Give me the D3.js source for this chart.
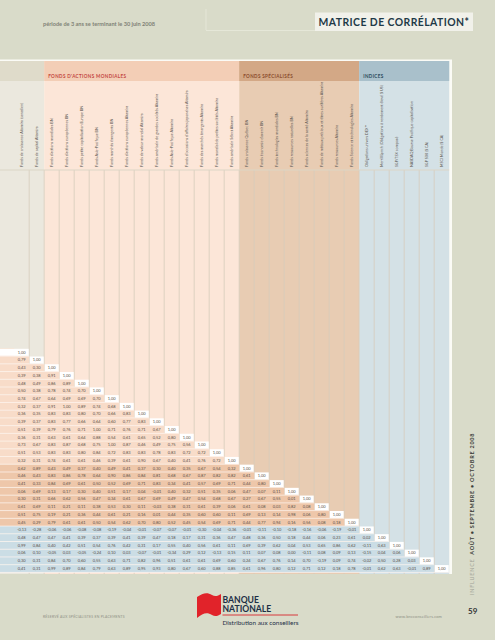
<!DOCTYPE html>
<html><head><meta charset="utf-8">
<script src="https://cdn.jsdelivr.net/npm/d3@7"></script>
<style>
html,body{margin:0;padding:0;background:#d9dbc9;}
svg{display:block;}
text{font-family:Lato,"Open Sans",sans-serif;}
</style></head>
<body>
<script>
// ---------- DATA ----------
const groupNames = ["", "FONDS D'ACTIONS MONDIALES", "FONDS SPÉCIALISÉS", "INDICES"];
const groupSizes = [2, 13, 8, 6];
const columns = [
  "Fonds de croissance Altamira (canadien)",
  "Fonds de capital Altamira",
  "Fonds d'actions mondiales BN",
  "Fonds d'actions européennes BN",
  "Fonds petite capitalisation Europe BN",
  "Fonds Asie-Pacifique BN",
  "Fonds marchés émergents BN",
  "Fonds d'actions européennes Altamira",
  "Fonds de valeur mondial Altamira",
  "Fonds américain de grandes sociétés Altamira",
  "Fonds Asie-Pacifique Altamira",
  "Fonds d'occasions d'affaires japonaises Altamira",
  "Fonds des marchés émergents Altamira",
  "Fonds mondial de petites sociétés Altamira",
  "Fonds américain Sélect Altamira",
  "Fonds croissance Québec BN",
  "Fonds économie d'avenir BN",
  "Fonds technologies mondiales BN",
  "Fonds ressources naturelles BN",
  "Fonds sciences de la santé Altamira",
  "Fonds de métaux précieux et titres aurifères Altamira",
  "Fonds ressources Altamira",
  "Fonds Science et technologies Altamira",
  "Obligations univers DEX™",
  "Merrill Lynch (Obligations à rendement élevé $ US)",
  "S&P/TSX composé",
  "NASDAQ Bourse Pacifique capitalisation",
  "S&P 500 ($ CA)",
  "MSCI Monde ($ CA)"
];
// lower triangle (row i has i values, diagonal = 1,00)
const corr = [
 [],
 [0.79],
 [0.43,0.30],
 [0.39,0.38,0.91],
 [0.48,0.49,0.86,0.89],
 [0.50,0.38,0.78,0.74,0.70],
 [0.74,0.67,0.64,0.69,0.69,0.70],
 [0.32,0.37,0.91,1.00,0.89,0.74,0.68],
 [0.36,0.35,0.83,0.83,0.80,0.70,0.66,0.83],
 [0.39,0.37,0.83,0.77,0.66,0.64,0.60,0.77,0.83],
 [0.51,0.39,0.79,0.76,0.71,1.00,0.71,0.76,0.71,0.67],
 [0.36,0.31,0.63,0.61,0.64,0.88,0.54,0.61,0.65,0.52,0.80],
 [0.73,0.67,0.83,0.87,0.68,0.75,1.00,0.87,0.46,0.49,0.75,0.56],
 [0.51,0.53,0.83,0.83,0.80,0.84,0.72,0.83,0.83,0.78,0.83,0.72,0.72],
 [0.32,0.31,0.74,0.61,0.61,0.46,0.39,0.61,0.90,0.67,0.40,0.41,0.76,0.72],
 [0.62,0.89,0.43,0.49,0.37,0.40,0.49,0.41,0.37,0.30,0.40,0.35,0.67,0.54,0.32],
 [0.46,0.43,0.83,0.86,0.78,0.64,0.90,0.86,0.84,0.81,0.68,0.67,0.87,0.82,0.82,0.61],
 [0.41,0.33,0.84,0.69,0.61,0.50,0.52,0.69,0.71,0.83,0.34,0.41,0.57,0.69,0.71,0.44,0.80],
 [0.06,0.69,0.13,0.17,0.30,0.40,0.51,0.17,0.04,-0.01,0.40,0.32,0.51,0.35,0.06,0.47,0.07,0.11],
 [0.30,0.31,0.66,0.62,0.56,0.47,0.34,0.61,0.67,0.69,0.49,0.47,0.54,0.68,0.67,0.27,0.67,0.55,0.01],
 [0.61,0.69,0.11,0.21,0.11,0.38,0.53,0.30,0.11,-0.03,0.38,0.31,0.61,0.39,0.06,0.61,0.08,0.03,0.82,0.08],
 [0.51,0.75,0.19,0.21,0.36,0.44,0.61,0.21,0.16,0.01,0.44,0.35,0.60,0.60,0.11,0.69,0.13,0.14,0.98,0.06,0.80],
 [0.45,0.29,0.79,0.61,0.61,0.50,0.54,0.62,0.70,0.80,0.52,0.45,0.54,0.69,0.71,0.44,0.77,0.94,0.16,0.56,0.08,0.18],
 [-0.13,-0.28,-0.06,-0.06,-0.08,-0.08,-0.19,-0.04,-0.01,-0.07,-0.07,-0.01,-0.30,-0.04,-0.36,-0.01,-0.11,-0.10,-0.18,-0.16,-0.06,-0.19,-0.01],
 [0.48,0.47,0.47,0.41,0.39,0.37,0.39,0.41,0.39,0.47,0.18,0.17,0.31,0.36,0.47,0.48,0.36,0.50,0.18,0.44,0.06,0.23,0.61,0.02],
 [0.99,0.84,0.40,0.42,0.51,0.54,0.76,0.42,0.31,0.17,0.55,0.40,0.56,0.61,0.11,0.69,0.39,0.62,0.04,0.53,0.65,0.86,0.62,-0.11,0.63],
 [0.06,0.10,-0.05,0.03,-0.05,-0.24,0.10,0.03,-0.07,-0.01,-0.34,0.29,0.12,-0.13,0.15,0.11,0.07,0.08,0.00,-0.11,0.08,0.09,0.13,-0.15,0.04,0.06],
 [0.30,0.31,0.84,0.70,0.60,0.55,0.63,0.71,0.82,0.96,0.51,0.61,0.61,0.69,0.60,0.24,0.67,0.76,0.14,0.70,-0.19,0.09,0.74,-0.02,0.50,0.28,0.03],
 [0.41,0.31,0.99,0.89,0.84,0.79,0.63,0.89,0.95,0.93,0.80,0.67,0.60,0.88,0.85,0.61,0.96,0.80,0.12,0.71,0.12,0.18,0.78,-0.01,0.62,0.63,-0.01,0.89]
];
const titleText = "MATRICE DE CORRÉLATION*";
const subtitleText = "période de 3 ans se terminant le 30 juin 2008";

// ---------- STYLE ----------
const W = 495, H = 640;
const bandFill   = ["#dfdbca", "#f3ceb6", "#d3a886", "#a9c0cb"];
const colFill    = ["#ebe8de", "#fce6d8", "#e8ccb3", "#d4e1e6"];
const rowFill    = ["#f8dcc9", "#f8dcc9", "#eec7aa", "#cbdde5"];
const groupText  = ["#000", "#c4473f", "#8a4b2c", "#27485a"];
const n = columns.length;
const groupOf = [];
groupSizes.forEach((s, g) => { for (let k = 0; k < s; k++) groupOf.push(g); });

const svg = d3.select("body").append("svg").attr("width", W).attr("height", H);

const x = d3.scaleBand().domain(d3.range(n)).range([14.2, 449.2]);
const y = d3.scaleBand().domain(d3.range(n)).range([348.4, 572.4]);
const topY = 61, bandH = 20, labelBottom = 170, bottomY = 574;

// group extents
let acc = 0;
const groups = groupSizes.map((s, g) => { const o = {g, first: acc, last: acc + s - 1}; acc += s; return o; });
const gx0 = d => d.first === 0 ? 0 : x(d.first);
const gx1 = d => x(d.last) + x.bandwidth();

// white frame
svg.append("rect").attr("x", 0).attr("y", topY - 1.5).attr("width", 452).attr("height", bottomY - topY + 1.5).attr("fill", "#fbfbf6");

// column backgrounds
svg.append("g").selectAll("rect").data(groups).join("rect")
  .attr("x", gx0).attr("width", d => gx1(d) - gx0(d))
  .attr("y", topY).attr("height", bottomY - topY).attr("fill", d => colFill[d.g]);

// header bands
svg.append("g").selectAll("rect").data(groups).join("rect")
  .attr("x", gx0).attr("width", d => gx1(d) - gx0(d))
  .attr("y", topY).attr("height", bandH).attr("fill", d => bandFill[d.g]);
svg.append("g").selectAll("text").data(groups.filter(d => groupNames[d.g])).join("text")
  .attr("x", d => gx0(d) + 4).attr("y", topY + 16.5)
  .attr("font-size", 4.6).attr("font-weight", 700).attr("letter-spacing", 0.35)
  .attr("fill", d => groupText[d.g]).text(d => groupNames[d.g]);

// vertical column gridlines (below label area)
svg.append("g").selectAll("line").data(d3.range(1, n)).join("line")
  .attr("x1", d => x(d)).attr("x2", d => x(d))
  .attr("y1", labelBottom).attr("y2", bottomY)
  .attr("stroke", "#d6cbbb").attr("stroke-width", 0.8);
// separator under labels
svg.append("line").attr("x1", 0).attr("x2", 449.2).attr("y1", labelBottom).attr("y2", labelBottom)
  .attr("stroke", "#dcd5c6").attr("stroke-width", 1.2);

// column labels
svg.append("g").selectAll("text").data(columns).join("text")
  .attr("transform", (d, i) => `translate(${x(i) + x.bandwidth() / 2 + 1.3},${labelBottom - 3}) rotate(-90)`)
  .attr("font-size", 3.7).attr("fill", "#5b5650").text(d => d);

// row bands
const rows = svg.append("g");
rows.selectAll("rect.band").data(d3.range(n)).join("rect").attr("class", "band")
  .attr("x", 0).attr("width", i => x(i))
  .attr("y", i => y(i)).attr("height", y.bandwidth())
  .attr("fill", i => rowFill[groupOf[i]]);
// row separators
rows.selectAll("line").data(d3.range(n)).join("line")
  .attr("x1", 0).attr("x2", i => x(i) + x.bandwidth())
  .attr("y1", i => y(i) + y.bandwidth()).attr("y2", i => y(i) + y.bandwidth())
  .attr("stroke", "#fff7f0").attr("stroke-width", 0.7);
// diagonal cells
rows.selectAll("rect.diag").data(d3.range(n)).join("rect").attr("class", "diag")
  .attr("x", i => i === 0 ? 0 : x(i) + 0.5).attr("width", i => i === 0 ? x(0) + x.bandwidth() - 0.5 : x.bandwidth() - 1)
  .attr("y", i => y(i) + 0.4).attr("height", y.bandwidth() - 0.8).attr("fill", "#ffffff");

// cell values
const fmt = v => d3.format(".2f")(v).replace(".", ",").replace("−", "-");
const cells = [];
corr.forEach((row, i) => { row.forEach((v, j) => cells.push({i, j, v})); cells.push({i, j: i, v: 1}); });
svg.append("g").selectAll("text").data(cells).join("text")
  .attr("x", d => x(d.j) + x.bandwidth() / 2).attr("y", d => y(d.i) + y.bandwidth() / 2 + 1.4)
  .attr("text-anchor", "middle").attr("font-size", 4).attr("fill", "#5a5048")
  .text(d => fmt(d.v));

// ---------- title area ----------
svg.append("line").attr("x1", 206).attr("x2", 206).attr("y1", 9).attr("y2", 30).attr("stroke", "#e8eadc").attr("stroke-width", 0.8);
svg.append("line").attr("x1", 206).attr("x2", 315).attr("y1", 30.5).attr("y2", 30.5).attr("stroke", "#e8eadc").attr("stroke-width", 0.8);
svg.append("rect").attr("x", 315).attr("y", 12.5).attr("width", 158).attr("height", 18.5).attr("fill", "#f1f1ea");
svg.append("text").attr("x", 394).attr("y", 25.8).attr("text-anchor", "middle")
  .attr("font-size", 10.4).attr("font-weight", 700).attr("letter-spacing", 0.45).attr("fill", "#1f3a48").text(titleText);
svg.append("text").attr("x", 43).attr("y", 25.8).attr("font-size", 5.6).attr("font-weight", 700)
  .attr("fill", "#808276").text(subtitleText);

// ---------- footer ----------
svg.append("text").attr("x", 43).attr("y", 618).attr("font-size", 3.4).attr("letter-spacing", 0.25)
  .attr("fill", "#8d8f84").text("RÉSERVÉ AUX SPÉCIALISTES EN PLACEMENTS");
svg.append("path").attr("d", "M197,597 C203,593 207,592 212,595 C215,597 218,596 221,594 L221,614 C218,616 215,617 212,615 C207,612 203,613 197,618 Z")
  .attr("fill", "#e1232a");
svg.append("text").attr("x", 222.5).attr("y", 602.5).attr("font-size", 8.6).attr("font-weight", 700).attr("fill", "#1d2f45")
  .attr("font-family", "'Liberation Sans',Arial,sans-serif").text("BANQUE");
svg.append("text").attr("x", 222.5).attr("y", 612.3).attr("font-size", 8.6).attr("font-weight", 700).attr("fill", "#1d2f45")
  .attr("font-family", "'Liberation Sans',Arial,sans-serif").text("NATIONALE");
svg.append("line").attr("x1", 222.5).attr("x2", 298).attr("y1", 615).attr("y2", 615).attr("stroke", "#d7262e").attr("stroke-width", 0.9);
svg.append("text").attr("x", 222.5).attr("y", 624.5).attr("font-size", 6.4).attr("fill", "#1d2f45")
  .attr("font-family", "'Liberation Sans Narrow','DejaVu Sans Condensed',sans-serif").text("Distribution aux conseillers");
svg.append("text").attr("x", 442).attr("y", 618).attr("text-anchor", "end").attr("font-size", 3.9).attr("letter-spacing", 0.2)
  .attr("fill", "#8d8f84").text("www.bncconseillers.com");
svg.append("text").attr("x", 468).attr("y", 614).attr("font-size", 8).attr("font-weight", 700).attr("fill", "#333").text("59");
const vt = svg.append("text").attr("transform", "translate(474,595) rotate(-90)").attr("font-size", 5.5).attr("letter-spacing", 0.75);
vt.append("tspan").attr("fill", "#a3a598").text("INFLUENCE ");
vt.append("tspan").attr("fill", "#3d3f3a").attr("font-weight", 700).attr("dx", 1.5).text("AOÛT • SEPTEMBRE • OCTOBRE  2008");
</script>
</body></html>
